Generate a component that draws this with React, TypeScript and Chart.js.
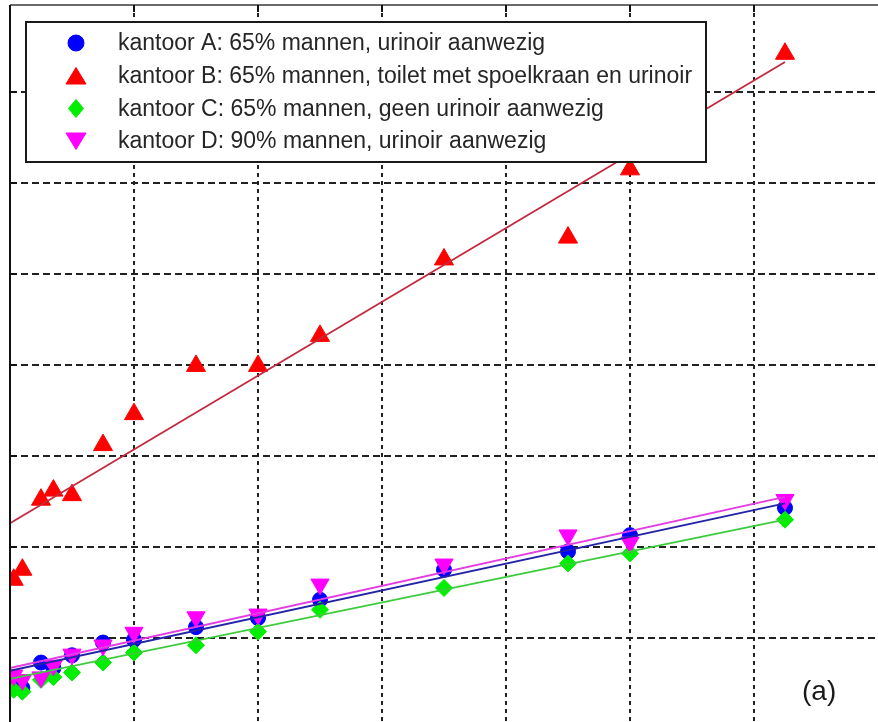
import React, { useEffect, useRef } from 'react';
import { Chart, registerables } from 'chart.js';

Chart.register(...registerables);

// Shared measurement positions for all four offices
const xValues = [0.03, 0.1, 0.25, 0.35, 0.5, 0.75, 1, 1.5, 2, 2.5, 3.5, 4.5, 5, 6.25];

// Measured values per office
const officeA = [0.47, 0.45, 0.73, 0.67, 0.81, 0.95, 0.98, 1.12, 1.22, 1.42, 1.75, 1.95, 2.13, 2.43];
const officeB = [1.64, 1.75, 2.52, 2.62, 2.57, 3.12, 3.46, 3.99, 3.99, 4.32, 5.16, 5.4, 6.15, 7.42];
const officeC = [0.43, 0.41, 0.54, 0.57, 0.62, 0.73, 0.84, 0.92, 1.07, 1.31, 1.55, 1.82, 1.93, 2.3];
const officeD = [0.59, 0.54, 0.57, 0.7, 0.82, 0.92, 1.06, 1.23, 1.26, 1.59, 1.81, 2.13, 2.05, 2.52];

// Linear trend lines (start and end values)
const fitX = [0, 6.25];
const fitA = [0.64, 2.48];
const fitB = [2.26, 7.33];
const fitC = [0.55, 2.3];
const fitD = [0.67, 2.55];

const legendLabels = [
  'kantoor A: 65% mannen, urinoir aanwezig',
  'kantoor B: 65% mannen, toilet met spoelkraan en urinoir',
  'kantoor C: 65% mannen, geen urinoir aanwezig',
  'kantoor D: 90% mannen, urinoir aanwezig',
];
const panelLabel = '(a)';

const X_MIN = 0;
const X_MAX = 7;
const Y_MIN = 0;
const Y_MAX = 7.956;

const COLORS = {
  A: '#0000ff',
  B: '#ff0000',
  C: '#00ee00',
  D: '#ff00ff',
};
const LINE_COLORS = {
  A: '#2323a8',
  B: '#c4283f',
  C: '#3ccc3c',
  D: '#e23ce2',
};

const FONT = '"Liberation Sans", Arial, sans-serif';

const pts = (xs: number[], ys: number[]) => xs.map((x, i) => ({ x, y: ys[i] }));

function drawMarker(ctx: CanvasRenderingContext2D, kind: string, x: number, y: number, color: string) {
  ctx.save();
  ctx.fillStyle = color;
  ctx.strokeStyle = color;
  ctx.lineWidth = 1;
  ctx.beginPath();
  if (kind === 'circle') {
    ctx.arc(x, y, 8, 0, Math.PI * 2);
  } else if (kind === 'up') {
    ctx.moveTo(x, y - 8.5);
    ctx.lineTo(x + 10, y + 8);
    ctx.lineTo(x - 10, y + 8);
    ctx.closePath();
  } else if (kind === 'down') {
    ctx.moveTo(x, y + 8.5);
    ctx.lineTo(x + 10, y - 8);
    ctx.lineTo(x - 10, y - 8);
    ctx.closePath();
  } else {
    ctx.moveTo(x, y - 9);
    ctx.lineTo(x + 7.5, y);
    ctx.lineTo(x, y + 9);
    ctx.lineTo(x - 7.5, y);
    ctx.closePath();
  }
  ctx.fill();
  ctx.stroke();
  ctx.restore();
}

// Axis frame, inward ticks, in-plot legend box and panel label
const panelDecor = {
  id: 'panelDecor',
  afterDraw(chart: any) {
    const { ctx, chartArea, scales } = chart;
    const { left, top, right, bottom } = chartArea;
    ctx.save();

    // top box edge
    ctx.strokeStyle = '#6b6b6b';
    ctx.lineWidth = 2;
    ctx.beginPath();
    ctx.moveTo(left, top);
    ctx.lineTo(right, top);
    ctx.stroke();

    // left axis
    ctx.strokeStyle = '#111';
    ctx.lineWidth = 2;
    ctx.beginPath();
    ctx.moveTo(left, top);
    ctx.lineTo(left, bottom);
    ctx.stroke();

    // inward ticks
    ctx.lineWidth = 2;
    ctx.strokeStyle = '#111';
    for (let v = 1; v < Y_MAX; v++) {
      const py = Math.round(scales.y.getPixelForValue(v));
      ctx.beginPath();
      ctx.moveTo(left, py);
      ctx.lineTo(left + 7, py);
      ctx.stroke();
    }
    for (let v = 1; v < X_MAX; v++) {
      const px = Math.round(scales.x.getPixelForValue(v));
      ctx.beginPath();
      ctx.moveTo(px, top);
      ctx.lineTo(px, top + 7);
      ctx.stroke();
    }

    // legend
    const bx = 26;
    const by = 22;
    const bw = 680;
    const bh = 140;
    ctx.fillStyle = '#ffffff';
    ctx.fillRect(bx, by, bw, bh);
    ctx.strokeStyle = '#1a1a1a';
    ctx.lineWidth = 2;
    ctx.strokeRect(bx, by, bw, bh);

    const kinds = ['circle', 'up', 'diamond', 'down'];
    const cols = [COLORS.A, COLORS.B, COLORS.C, COLORS.D];
    const rowY = [43, 76, 108.5, 141];
    ctx.font = `23px ${FONT}`;
    ctx.textBaseline = 'middle';
    ctx.textAlign = 'left';
    legendLabels.forEach((label, i) => {
      drawMarker(ctx, kinds[i], 76, rowY[i], cols[i]);
      ctx.fillStyle = '#262626';
      ctx.fillText(label, 118, rowY[i] + 1);
    });

    // panel label
    ctx.font = `28px ${FONT}`;
    ctx.fillStyle = '#1a1a1a';
    ctx.textBaseline = 'middle';
    ctx.fillText(panelLabel, 802, 692);

    ctx.restore();
  },
};

export default function App() {
  const canvasRef = useRef<HTMLCanvasElement | null>(null);

  useEffect(() => {
    const canvas = canvasRef.current;
    if (!canvas) return;

    const markerSet = (label: string, data: number[], color: string, style: any, radius: number, rotation: number, order: number) => ({
      label,
      data: pts(xValues, data),
      showLine: false,
      pointStyle: style,
      pointRadius: radius,
      pointRotation: rotation,
      pointBackgroundColor: color,
      pointBorderColor: color,
      pointBorderWidth: 1,
      backgroundColor: color,
      borderColor: color,
      clip: 0,
      order,
    });

    const fitSet = (data: number[], color: string, order: number) => ({
      label: '',
      data: pts(fitX, data),
      showLine: true,
      pointRadius: 0,
      borderColor: color,
      borderWidth: 1.8,
      backgroundColor: color,
      clip: 0,
      order,
    });

    const chart = new Chart(canvas, {
      type: 'scatter',
      data: {
        datasets: [
          fitSet(fitA, LINE_COLORS.A, 3),
          fitSet(fitB, LINE_COLORS.B, 2),
          fitSet(fitC, LINE_COLORS.C, 1),
          fitSet(fitD, LINE_COLORS.D, 0),
          markerSet(legendLabels[0], officeA, COLORS.A, 'circle', 7.5, 0, 7),
          markerSet(legendLabels[1], officeB, COLORS.B, 'triangle', 11, 0, 6),
          markerSet(legendLabels[2], officeC, COLORS.C, 'rectRot', 8.5, 0, 5),
          markerSet(legendLabels[3], officeD, COLORS.D, 'triangle', 10.5, 180, 4),
        ] as any,
      },
      options: {
        responsive: false,
        animation: false,
        events: [],
        layout: { autoPadding: false, padding: { left: 10, top: 5, right: 12, bottom: 11 } },
        plugins: {
          legend: { display: false },
          tooltip: { enabled: false },
          title: { display: false },
        },
        scales: {
          x: {
            type: 'linear',
            min: X_MIN,
            max: X_MAX,
            ticks: { display: false, stepSize: 1 },
            grid: { color: '#222222', lineWidth: 2, drawTicks: false },
            border: { display: false, dash: [4, 4] },
            afterBuildTicks: (axis: any) => {
              axis.ticks = axis.ticks.filter((t: any) => t.value > X_MIN && t.value < X_MAX);
            },
          },
          y: {
            type: 'linear',
            min: Y_MIN,
            max: Y_MAX,
            ticks: { display: false, stepSize: 1 },
            grid: { color: '#222222', lineWidth: 2, drawTicks: false },
            border: { display: false, dash: [7, 4] },
            afterBuildTicks: (axis: any) => {
              axis.ticks = axis.ticks.filter((t: any) => Number.isInteger(t.value) && t.value > Y_MIN);
            },
          },
        },
      },
      plugins: [panelDecor],
    });

    return () => chart.destroy();
  }, []);

  return (
    <div
      style={{
        position: 'fixed',
        left: 0,
        top: 0,
        width: 878,
        height: 722,
        overflow: 'hidden',
        background: '#ffffff',
      }}
    >
      <canvas ref={canvasRef} width={890} height={740} style={{ display: 'block' }} />
    </div>
  );
}
